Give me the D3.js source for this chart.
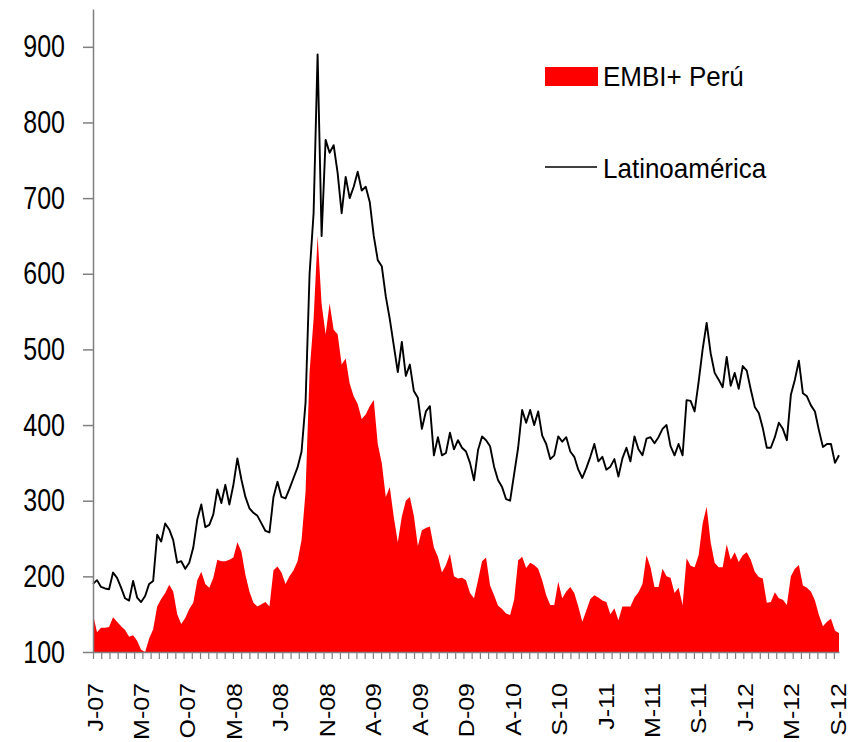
<!DOCTYPE html>
<html>
<head>
<meta charset="utf-8">
<script src="https://cdnjs.cloudflare.com/ajax/libs/d3/7.8.5/d3.min.js"></script>
<style>
  body { margin: 0; background: #fff; }
  text { font-family: "Liberation Sans", Arial, sans-serif; fill: #000; }
</style>
</head>
<body>
<div id="canvas"></div>
<script>
// spreads in basis points, sampled at even steps from Jan-07 to Sep-12
const peru = [150,126,132,132,133,146,140,134,129,120,122,115,103,100,118,130,160,170,178,189,
  180,150,137,145,157,165,195,206,190,185,198,222,220,220,222,225,245,233,202,180,
  165,160,163,166,160,208,213,205,190,200,208,220,248,312,470,540,650,560,520,561,
  526,520,480,488,455,438,428,408,414,425,433,375,350,305,318,278,245,279,300,305,
  280,240,261,264,266,238,226,205,215,230,200,197,198,195,178,171,195,220,225,188,
  175,161,157,151,149,169,221,226,211,218,215,210,195,175,162,162,193,171,180,186,
  178,160,140,155,170,175,172,168,166,150,158,142,160,160,160,172,179,190,228,212,
  186,186,210,200,198,178,185,162,224,214,212,228,270,292,245,218,212,212,242,222,
  232,219,228,232,222,206,199,197,165,166,179,171,169,162,200,210,215,188,185,180,
  168,149,134,140,144,128,125];

const latam = [190,195,186,184,183,205,198,185,171,168,194,172,166,174,190,194,255,246,270,262,
  248,218,220,210,218,238,275,295,265,268,282,315,297,321,295,321,356,328,305,290,
  284,280,270,260,258,305,325,305,303,316,330,344,365,430,600,680,890,650,777,760,
  770,733,680,728,700,715,735,710,715,695,650,618,610,570,540,505,470,510,465,480,
  445,436,395,418,425,360,384,360,363,390,368,380,370,365,350,327,367,385,380,372,
  345,327,318,302,300,335,370,420,403,420,400,418,386,375,355,360,385,378,384,365,
  358,341,330,343,358,375,352,358,341,345,355,332,356,370,352,385,368,360,382,384,
  376,384,395,400,372,360,375,360,433,432,418,457,500,535,495,469,460,450,490,452,
  469,448,478,472,447,424,416,396,370,370,384,403,395,380,440,460,485,442,438,426,
  418,393,371,375,375,350,360];

const xLabels = ["J-07","M-07","O-07","M-08","J-08","N-08","A-09","A-09","D-09",
  "A-10","S-10","J-11","M-11","S-11","J-12","M-12","S-12"];
const yTicks = [100, 200, 300, 400, 500, 600, 700, 800, 900];
const legendNames = ["EMBI+ Perú", "Latinoamérica"];

const w = 866, h = 742;
const margin = {top: 9, right: 27, bottom: 90, left: 93};
const totalDays = 1450, labelEvery = 90.3, tickEvery = 16, labelStart = 3;

const svg = d3.select("#canvas").append("svg")
  .attr("width", w).attr("height", h);

const x = d3.scaleLinear().domain([0, totalDays]).range([margin.left, w - margin.right]);
const y = d3.scaleLinear().domain([100, 950]).range([h - margin.bottom, margin.top]);
const step = totalDays / (peru.length - 1);

// red area for Peru
const area = d3.area()
  .x((d, i) => x(i * step))
  .y0(y(100))
  .y1(d => y(d));
svg.append("path").datum(peru)
  .attr("d", area)
  .attr("fill", "#ff0000");

// black line for Latin America
const line = d3.line()
  .x((d, i) => x(i * step))
  .y(d => y(d));
svg.append("path").datum(latam)
  .attr("d", line)
  .attr("fill", "none")
  .attr("stroke", "#000")
  .attr("stroke-width", 1.9)
  .attr("stroke-linejoin", "round");

// y axis
const yAxis = svg.append("g")
  .attr("transform", "translate(" + x(0) + ",0)")
  .call(d3.axisLeft(y).tickValues(yTicks).tickSize(10).tickPadding(18).tickSizeOuter(0));
yAxis.select(".domain").attr("stroke", "#808080").attr("stroke-width", 1.5);
yAxis.selectAll(".tick line").attr("stroke", "#808080").attr("stroke-width", 1.5);
yAxis.selectAll("text")
  .attr("font-size", 25)
  .attr("font-family", "Liberation Sans, Arial, sans-serif")
  .attr("transform", "scale(1,1.25)");

// x axis: small ticks and rotated labels
const xAxis = svg.append("g")
  .attr("transform", "translate(0," + y(100) + ")")
  .call(d3.axisBottom(x).tickValues(d3.range(0, totalDays + 1, tickEvery)).tickSize(7).tickFormat("").tickSizeOuter(0));
xAxis.select(".domain").attr("stroke", "#808080").attr("stroke-width", 1.5);
xAxis.selectAll(".tick line").attr("stroke", "#808080").attr("stroke-width", 1.2);

svg.append("g").selectAll("text")
  .data(xLabels)
  .enter().append("text")
  .attr("transform", (d, i) => "translate(" + (x(labelStart + i * labelEvery) + 8) + "," + (y(100) + 31) + ") rotate(-90) scale(1,0.9)")
  .attr("text-anchor", "end")
  .attr("font-size", 25)
  .text(d => d);

// legend
const legend = svg.append("g");
legend.append("rect")
  .attr("x", 545).attr("y", 67).attr("width", 53).attr("height", 19)
  .attr("fill", "#ff0000");
legend.append("line")
  .attr("x1", 545).attr("x2", 597).attr("y1", 167).attr("y2", 167)
  .attr("stroke", "#000").attr("stroke-width", 1.5);
legend.selectAll("text.lg")
  .data(legendNames)
  .enter().append("text")
  .attr("class", "lg")
  .attr("transform", (d, i) => "translate(603," + (86 + i * 92) + ") scale(1,1.08)")
  .attr("font-size", 26)
  .text(d => d);
</script>
</body>
</html>
